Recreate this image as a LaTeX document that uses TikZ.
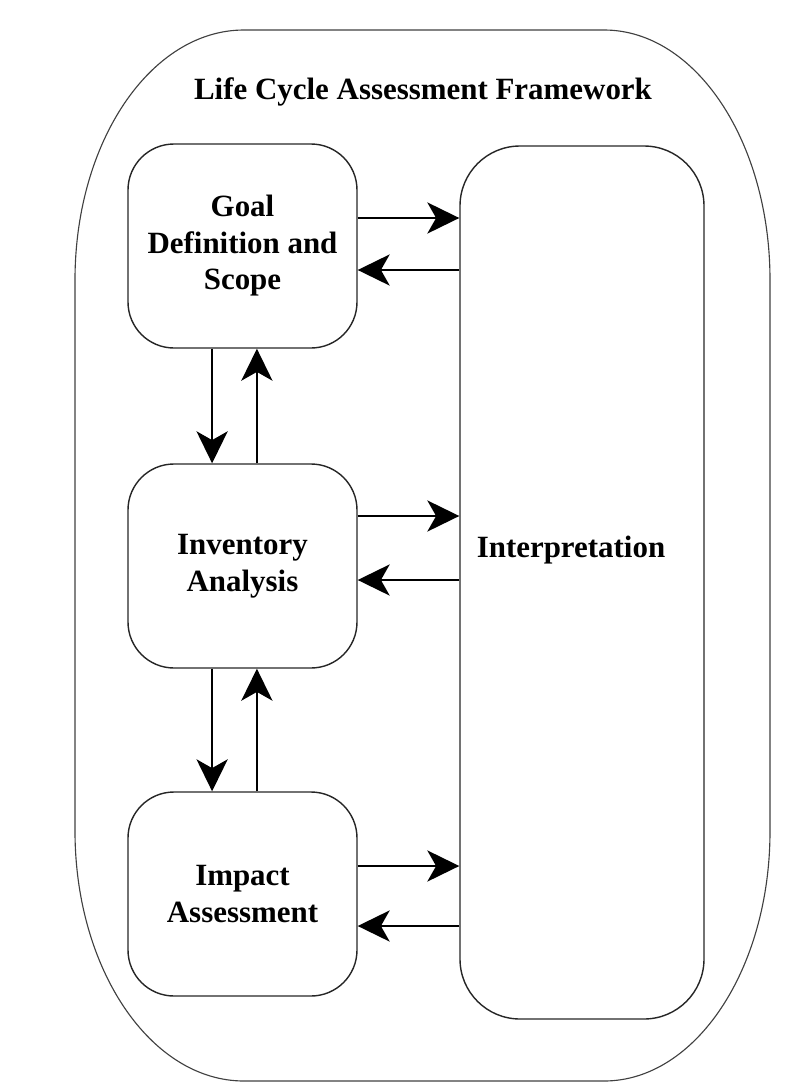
\documentclass[tikz,border=0pt]{standalone}
\usepackage{fontspec}
\setmainfont{Liberation Serif}
\usetikzlibrary{calc,positioning,arrows.meta}

\begin{document}
\begin{tikzpicture}[every node/.style={font=\bfseries\fontsize{22}{26}\selectfont,align=center},
  phase/.style={draw=black!85,line width=1pt,rounded corners=1.15cm,minimum width=5.725cm,minimum height=5.1cm,inner sep=0pt},
  arr/.style={draw=black,line width=1.3pt,-{Stealth[length=0.8cm,width=0.78cm,inset=0.22cm]}}]
  \useasboundingbox (0,0) rectangle (19.9,-27.3);
  % outer frame
  \draw[black!75,line width=0.8pt] (6.1,-0.75) -- (15.1,-0.75)
    arc[start angle=90,end angle=0,x radius=4.15cm,y radius=6.25cm] -- (19.25,-20.775)
    arc[start angle=0,end angle=-90,x radius=4.15cm,y radius=6.25cm] -- (6.1,-27.025)
    arc[start angle=270,end angle=180,x radius=4.225cm,y radius=6.25cm] -- (1.875,-7.0)
    arc[start angle=180,end angle=90,x radius=4.225cm,y radius=6.25cm] -- cycle;
  \node (title) at (10.575,-2.3) {Life Cycle Assessment Framework};
  \node[phase] (goal) at (6.0625,-6.15) {Goal\\Definition and\\Scope};
  \node[phase] (inv) at (6.0625,-14.15) {Inventory\\Analysis};
  \node[phase] (impact) at (6.0625,-22.35) {Impact\\Assessment};
  \node[phase,rounded corners=1.5cm,minimum width=6.1cm,minimum height=21.825cm] (interp) at (14.55,-14.5625) {};
  \node (interptext) at (14.275,-13.75) {Interpretation};
  % to and from interpretation
  \draw[arr] ([yshift=0.7cm]goal.east) -- ([yshift=0.7cm]goal.east -| interp.west);
  \draw[arr] ([yshift=-0.6cm]goal.east -| interp.west) -- ([yshift=-0.6cm]goal.east);
  \draw[arr] ([yshift=1.25cm]inv.east) -- ([yshift=1.25cm]inv.east -| interp.west);
  \draw[arr] ([yshift=-0.35cm]inv.east -| interp.west) -- ([yshift=-0.35cm]inv.east);
  \draw[arr] ([yshift=0.7cm]impact.east) -- ([yshift=0.7cm]impact.east -| interp.west);
  \draw[arr] ([yshift=-0.8cm]impact.east -| interp.west) -- ([yshift=-0.8cm]impact.east);
  % between phases
  \draw[arr] ([xshift=-0.76cm]goal.south) -- ([xshift=-0.76cm]inv.north);
  \draw[arr] ([xshift=0.36cm]inv.north) -- ([xshift=0.36cm]goal.south);
  \draw[arr] ([xshift=-0.76cm]inv.south) -- ([xshift=-0.76cm]impact.north);
  \draw[arr] ([xshift=0.36cm]impact.north) -- ([xshift=0.36cm]inv.south);
\end{tikzpicture}
\end{document}
